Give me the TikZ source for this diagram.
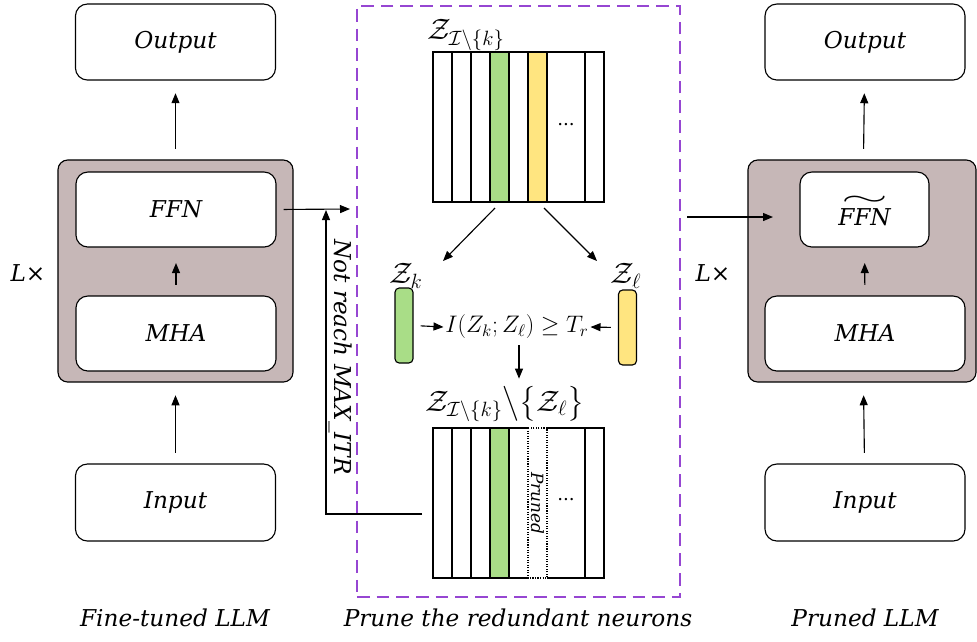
\RequirePackage{fix-cm}
\documentclass[tikz,border=0pt]{standalone}
\usepackage{amsmath}
\usepackage{graphicx}
\usepackage{fontspec}
\setmainfont{DejaVu Serif}
\usetikzlibrary{arrows.meta}

\definecolor{layerbg}{RGB}{198,183,183}
\definecolor{keepgreen}{RGB}{169,221,135}
\definecolor{dropyellow}{RGB}{255,229,128}
\definecolor{frameviolet}{RGB}{150,70,210}

\newcommand{\txtfont}{\fontsize{16.5}{19}\selectfont\itshape}
\newcommand{\mathfont}{\fontsize{17}{20}\selectfont}
\newcommand{\biglabfont}{\fontsize{21}{24}\selectfont}
\newcommand{\widetil}[1]{$\overset{\raisebox{-2pt}{\scalebox{2.6}[1.1]{$\sim$}}}{\hbox{#1}}$}

\tikzset{
    blk/.style={draw, rounded corners=8.5pt, line width=0.8pt, fill=white,
        font=\txtfont, minimum width=5cm, minimum height=1.875cm},
    layer/.style={draw, rounded corners=7pt, line width=0.8pt, fill=layerbg,
        minimum height=5.55cm},
    bar/.style={draw, rounded corners=3pt, line width=0.8pt,
        minimum width=0.45cm, minimum height=1.875cm},
    lbl/.style={font=\txtfont},
    mlbl/.style={font=\mathfont, inner sep=1pt},
    zlbl/.style={font=\biglabfont, inner sep=1pt},
    up/.style={->, shorten <=7.5pt, shorten >=9pt}
}

\begin{document}
\begin{tikzpicture}[x=0.025cm, y=-0.025cm, line width=0.8pt,
        >={Triangle[length=2.5mm, width=2mm]}]
    \useasboundingbox (0, 0) rectangle (977, 641);

    % fine-tuned model
    \node [blk, minimum height=1.9cm] (outA) at (175.5, 42) {Output};
    \node [layer, minimum width=5.875cm] (layA) at (175.5, 271) {};
    \node [blk] (ffnA) at (176, 209.5) {FFN};
    \node [blk] (mhaA) at (176, 333.5) {MHA};
    \node [blk, minimum height=1.925cm] (inA) at (175.5, 502.5) {Input};
    \node [lbl] (repA) at (28, 273) {L×};
    \node [lbl] (capA) at (175, 618) {Fine-tuned LLM};
    \draw [up] (layA) -- (outA);
    \draw [up, shorten >=11pt] (mhaA) -- (ffnA);
    \draw [up] (inA) -- (layA);

    % pruning stage
    \node [draw=frameviolet, line width=1pt, dash pattern=on 9pt off 5pt,
        minimum width=8.075cm, minimum height=14.775cm] (prune) at (518.5, 301.5) {};
    \node [lbl] (capP) at (518, 618) {Prune the redundant neurons};

    \coordinate (into) at (350, 209);
    \draw [->, shorten <=5pt] (ffnA.east) -- (into);
    \coordinate (fbkA) at (422, 514);
    \coordinate (fbkB) at (326, 514);
    \coordinate (fbkC) at (326, 210);
    \draw [->] (fbkA) -- (fbkB) -- (fbkC);
    \node [lbl, rotate=-90] (fbkLab) at (341, 357) {Not reach MAX\_ITR};

    % all neurons
    \node [minimum width=4.275cm, minimum height=3.75cm] (matA) at (518.5, 127) {};
    \fill [keepgreen] (490, 52) rectangle (509, 202);
    \fill [dropyellow] (528, 52) rectangle (547, 202);
    \draw (433, 52) rectangle (604, 202);
    \foreach \cx in {452, 471, 490, 509, 528, 547, 585}
        \draw (\cx, 52) -- (\cx, 202);
    \node [font=\fontsize{13}{15}\selectfont] (dotA) at (566, 125) {...};
    \node [zlbl] (labA) at (466, 35) {$\mathcal{Z}_{\mathcal{I}\backslash\{k\}}$};

    % pair of neurons
    \node [bar, fill=keepgreen] (zk) at (404, 325.5) {};
    \node [bar, fill=dropyellow] (zl) at (627.5, 327.5) {};
    \node [zlbl] (zkLab) at (406, 276) {$\mathcal{Z}_k$};
    \node [zlbl] (zlLab) at (626, 276) {$\mathcal{Z}_\ell$};
    \node [mlbl] (mi) at (517, 327) {$I(Z_k;Z_\ell)\geq T_r$};
    \coordinate (spA) at (495, 208);
    \coordinate (epA) at (443, 261);
    \coordinate (spB) at (544, 208);
    \coordinate (epB) at (597, 261);
    \draw [->] (spA) -- (epA);
    \draw [->] (spB) -- (epB);
    \draw [->, shorten <=5pt] (zk.east) -- (mi.west);
    \draw [->, shorten <=5pt] (zl.west) -- (mi.east);

    % remaining neurons
    \node [zlbl] (labB) at (505, 404)
        {$\mathcal{Z}_{\mathcal{I}\backslash\{k\}}\big\backslash\big\{\mathcal{Z}_\ell\big\}$};
    \draw [->, shorten <=3pt, shorten >=4pt] (mi.south -| 519, 0) -- (labB.north -| 519, 0);
    \node [minimum width=4.275cm, minimum height=3.75cm] (matB) at (518.5, 503) {};
    \fill [keepgreen] (490, 428) rectangle (509, 578);
    \draw (528, 428) -- (433, 428) -- (433, 578) -- (528, 578);
    \draw (547, 428) -- (604, 428) -- (604, 578) -- (547, 578);
    \foreach \cx in {452, 471, 490, 509, 585}
        \draw (\cx, 428) -- (\cx, 578);
    \draw [densely dotted] (528, 428) rectangle (547, 578);
    \node [rotate=-90, font=\fontsize{12}{14}\selectfont\itshape] (prn) at (537.5, 503) {Pruned};
    \node [font=\fontsize{13}{15}\selectfont] (dotB) at (566, 500) {...};

    % pruned model
    \node [blk, minimum height=1.9cm] (outB) at (865, 42) {Output};
    \node [layer, minimum width=5.7cm] (layB) at (862, 271) {};
    \node [blk, minimum width=3.225cm] (ffnB) at (864.5, 209.5) {\widetil{FFN}};
    \node [blk] (mhaB) at (865, 333.5) {MHA};
    \node [blk, minimum height=1.925cm] (inB) at (865, 502.5) {Input};
    \node [lbl] (repB) at (713, 273) {L×};
    \node [lbl] (capB) at (865, 618) {Pruned LLM};
    \draw [up] (layB) -- (outB);
    \draw [up, shorten >=11pt] (mhaB) -- (ffnB);
    \draw [up] (inB) -- (layB);
    \coordinate (fromP) at (687, 217);
    \coordinate (toB) at (773, 217);
    \draw [->] (fromP) -- (toB);
\end{tikzpicture}
\end{document}
